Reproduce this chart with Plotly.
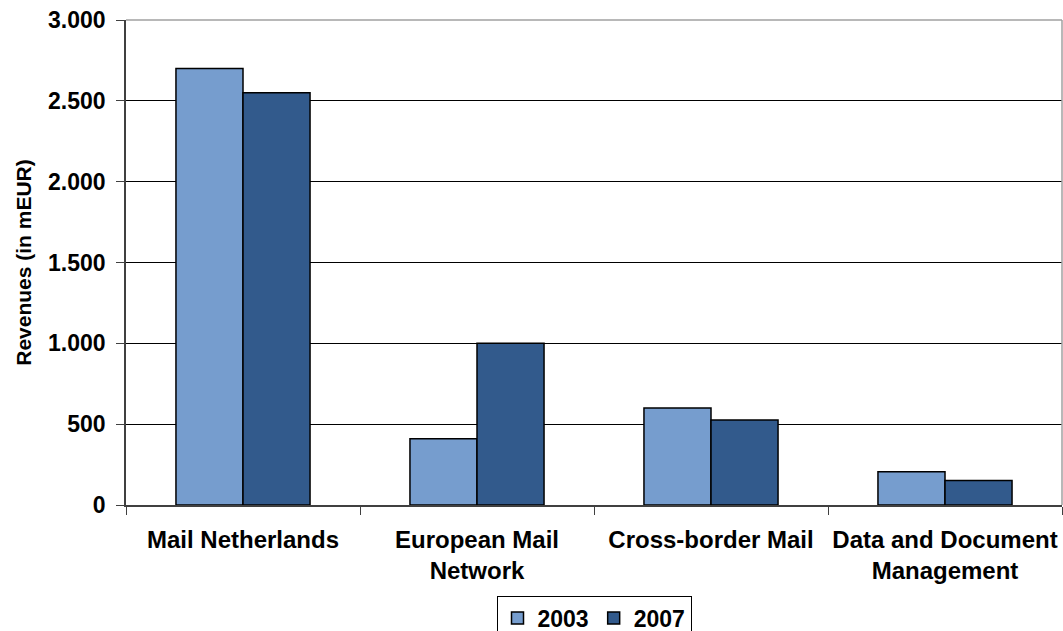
import plotly.graph_objects as go

categories = ["Mail Netherlands", "European Mail<br>Network", "Cross-border Mail", "Data and Document<br>Management"]
series_names = ["2003", "2007"]
values_2003 = [2700, 410, 600, 205]
values_2007 = [2550, 1000, 525, 152]
colors = ["#769DCE", "#325A8C"]
y_tickvals = [0, 500, 1000, 1500, 2000, 2500, 3000]

FONT = "Liberation Sans, Arial, sans-serif"

fig = go.Figure()
for name, vals, col in zip(series_names, [values_2003, values_2007], colors):
    fig.add_trace(go.Bar(
        x=categories, y=vals, name=name,
        marker=dict(color=col, line=dict(color="#000000", width=1.5)),
    ))

fig.update_layout(
    width=1063, height=631,
    margin=dict(l=126, r=1, t=20, b=126, autoexpand=False),
    paper_bgcolor="white", plot_bgcolor="white",
    separators=",.",
    font=dict(family=FONT, size=22, color="#000000"),
    barmode="group", bargap=0.427, bargroupgap=0,
    showlegend=True,
    legend=dict(
        orientation="h", x=0.5, xanchor="center",
        yref="container", y=0.056, yanchor="top",
        bordercolor="#000000", borderwidth=1, bgcolor="white",
        font=dict(family=FONT, size=23, color="#000000", weight="bold"),
        itemwidth=30, tracegroupgap=0,
    ),
    xaxis=dict(
        type="category", tickson="boundaries", ticks="outside", ticklen=8,
        tickcolor="#404040", tickwidth=1, tickangle=0,
        showline=True, linecolor="#404040", linewidth=1.5,
        showgrid=False, ticklabelstandoff=12,
        tickfont=dict(family=FONT, size=24, color="#000000", weight="bold"),
    ),
    yaxis=dict(
        range=[0, 3000], tickvals=y_tickvals, tickformat=",d",
        ticks="outside", ticklen=8, tickcolor="#404040", tickwidth=1,
        showline=True, linecolor="#404040", linewidth=1.5,
        showgrid=True, gridcolor="#000000", gridwidth=1,
        zeroline=False, ticklabelstandoff=6,
        tickfont=dict(family=FONT, size=23, color="#000000", weight="bold"),
        title=dict(text="Revenues (in mEUR)", standoff=11,
                   font=dict(family=FONT, size=21, color="#000000", weight="bold")),
    ),
    shapes=[
        dict(type="line", xref="paper", yref="paper", x0=0, x1=1, y0=1, y1=1,
             line=dict(color="#A0A0A0", width=1.5), layer="above"),
        dict(type="line", xref="paper", yref="paper", x0=1, x1=1, y0=0, y1=1,
             line=dict(color="#A0A0A0", width=1.5), layer="above"),
    ],
)

fig.write_html("out.html")
